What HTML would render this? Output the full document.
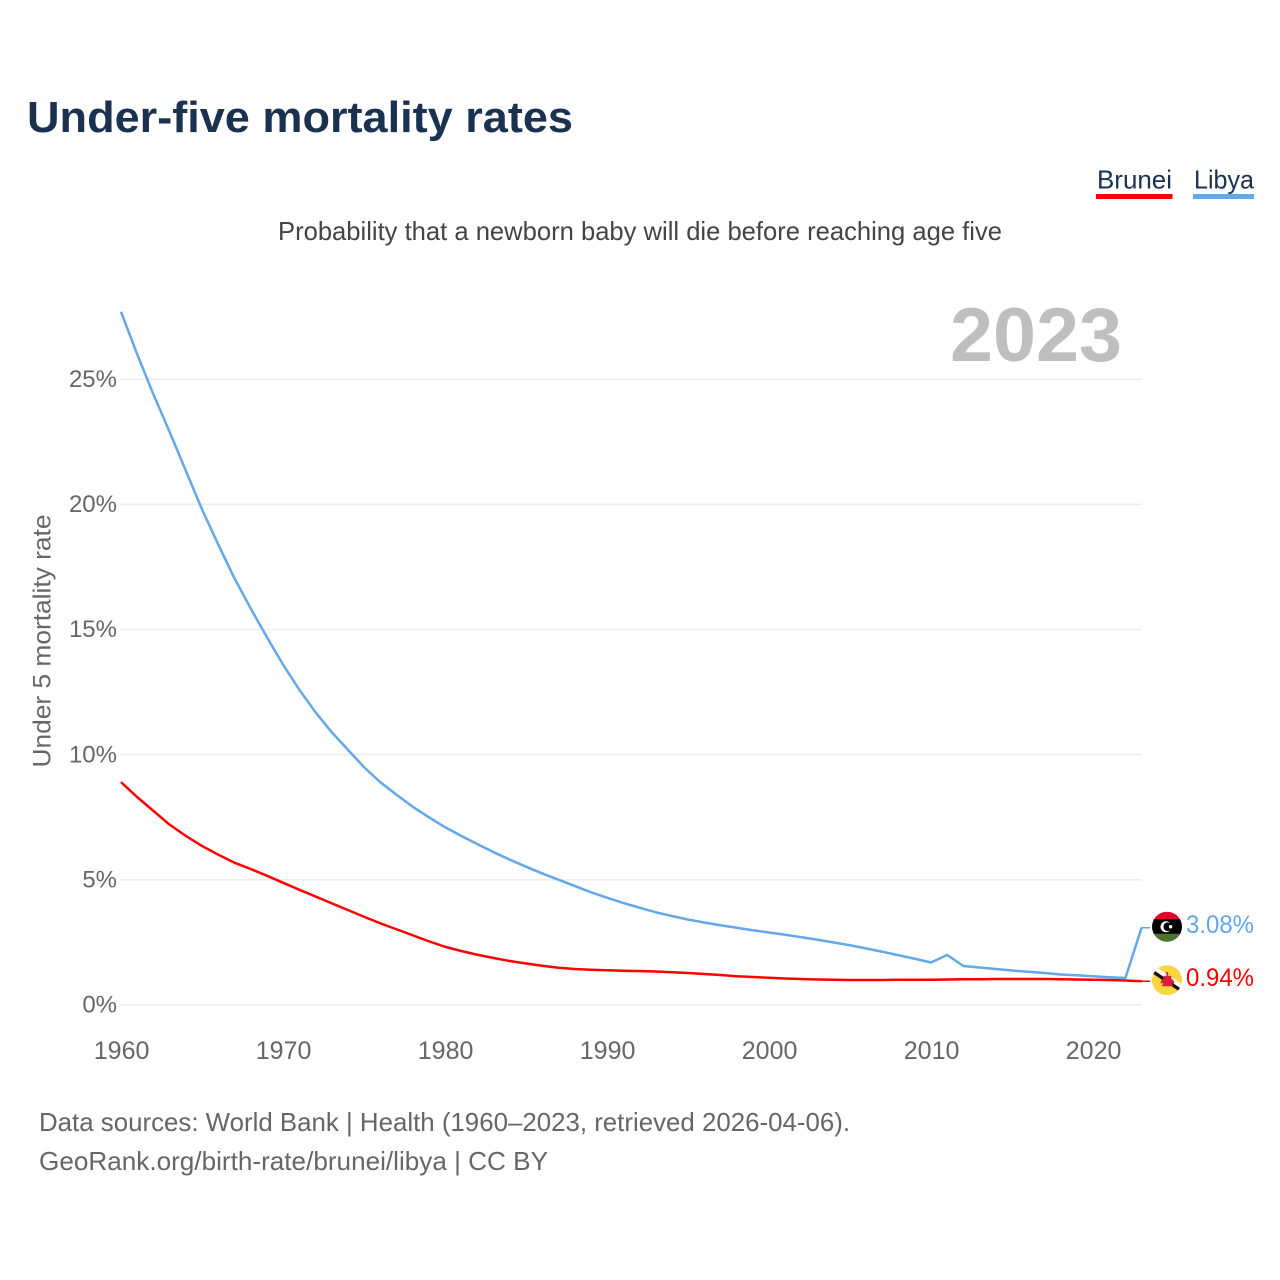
<!DOCTYPE html>
<html lang="en">
<head>
<meta charset="utf-8">
<title>Under-five mortality rates</title>
<style>
html,body{margin:0;padding:0;background:#fff;}
svg{display:block;font-family:"Liberation Sans",sans-serif;}
</style>
</head>
<body>
<svg id="chart" xmlns="http://www.w3.org/2000/svg" width="1280" height="1280" viewBox="0 0 1280 1280">
  <rect x="0" y="0" width="1280" height="1280" fill="#fff"/>
  <text x="27" y="132" font-size="44" font-weight="700" fill="#1a3150" textLength="546" lengthAdjust="spacingAndGlyphs">Under-five mortality rates</text>
  <g>
    <text x="1097" y="188.500" font-size="26" fill="#1a3150" textLength="75" lengthAdjust="spacingAndGlyphs">Brunei</text>
    <rect x="1096" y="194" width="76.5" height="5" fill="#ff0000"/>
  </g>
  <g>
    <text x="1194" y="188.500" font-size="26" fill="#1a3150" textLength="60" lengthAdjust="spacingAndGlyphs">Libya</text>
    <rect x="1193" y="194" width="61" height="5" fill="#62a8ea"/>
  </g>
  <text x="278" y="240" font-size="26" fill="#444" textLength="724" lengthAdjust="spacingAndGlyphs">Probability that a newborn baby will die before reaching age five</text>
  <text x="950" y="361" font-size="76" font-weight="700" fill="#bfbfbf" textLength="172" lengthAdjust="spacingAndGlyphs">2023</text>
  <text transform="translate(50.5,767.5) rotate(-90)" font-size="25" fill="#666" textLength="253" lengthAdjust="spacingAndGlyphs">Under 5 mortality rate</text>
  <g id="grid"></g>
  <g id="yticks"></g>
  <g id="xticks"></g>
  <g id="series"></g>
  <g id="flag-libya">
    <clipPath id="clip-libya"><circle cx="0" cy="0" r="15"/></clipPath>
    <g clip-path="url(#clip-libya)">
      <rect x="-15" y="-15" width="30" height="8" fill="#e4002b"/>
      <rect x="-15" y="-7.500" width="30" height="15" fill="#000"/>
      <rect x="-15" y="7" width="30" height="9" fill="#4c7430"/>
      <circle cx="-1" cy="0" r="5.500" fill="#fff"/>
      <circle cx="0.8" cy="0" r="4.400" fill="#000"/>
      <circle cx="3.600" cy="0" r="1.700" fill="#fff"/>
    </g>
  </g>
  <g id="flag-brunei">
    <clipPath id="clip-brunei"><circle cx="0" cy="0" r="15"/></clipPath>
    <g clip-path="url(#clip-brunei)">
      <rect x="-15" y="-15" width="30" height="30" fill="#fcd53f"/>
      <g transform="rotate(34)">
        <rect x="-22" y="-5" width="44" height="4.200" fill="#fff"/>
        <rect x="-22" y="-1" width="44" height="3.400" fill="#111"/>
      </g>
      <path d="M-1.200-8h2.400v3.500h3v2.500l3 3v2h-2.500l1.500 3h-11.400l1.500-3h-2.500v-2l3-3v-2.500h3z" fill="#d8203a"/>
    </g>
  </g>
  <text id="label-libya" x="1186" y="934" font-size="25" fill="#62a8ea" textLength="68" lengthAdjust="spacingAndGlyphs"></text>
  <text id="label-brunei" x="1186" y="986" font-size="25" fill="#ff0000" textLength="68" lengthAdjust="spacingAndGlyphs"></text>
  <text x="39" y="1131" font-size="26" fill="#666" textLength="811" lengthAdjust="spacingAndGlyphs">Data sources: World Bank | Health (1960–2023, retrieved 2026-04-06).</text>
  <text x="39" y="1170" font-size="26" fill="#666" textLength="509" lengthAdjust="spacingAndGlyphs">GeoRank.org/birth-rate/brunei/libya | CC BY</text>
</svg>
<script>
const startYear = 1960;
const libyaValues = [27.7,26.0,24.4,22.9,21.35,19.8,18.4,17.05,15.85,14.7,13.6,12.6,11.7,10.9,10.2,9.5,8.9,8.4,7.92,7.5,7.1,6.75,6.42,6.1,5.8,5.52,5.25,5.0,4.75,4.5,4.28,4.07,3.88,3.7,3.55,3.41,3.29,3.18,3.08,2.98,2.89,2.8,2.7,2.6,2.49,2.38,2.25,2.12,1.98,1.84,1.69,1.99,1.55,1.49,1.43,1.37,1.32,1.27,1.21,1.18,1.14,1.10,1.07,3.08];
const bruneiValues = [8.9,8.3,7.75,7.2,6.75,6.35,6.0,5.68,5.43,5.16,4.88,4.6,4.33,4.06,3.79,3.52,3.26,3.02,2.78,2.54,2.32,2.15,2.0,1.87,1.75,1.65,1.56,1.48,1.43,1.4,1.38,1.36,1.35,1.33,1.3,1.27,1.23,1.19,1.14,1.11,1.08,1.05,1.03,1.01,1.0,0.99,0.99,0.99,1.0,1.0,1.0,1.01,1.02,1.02,1.03,1.03,1.03,1.03,1.02,1.01,1.0,0.99,0.97,0.94];
const yTickValues = [0,5,10,15,20,25];
const xTickYears = [1960,1970,1980,1990,2000,2010,2020];

const NS = 'http://www.w3.org/2000/svg';
const xScale = function (year) { return 121 + (year - 1960) * 16.2; };
const yScale = function (value) { return 1004.8 - value * 25.02; };
const gridGroup = document.getElementById('grid');
const yTickGroup = document.getElementById('yticks');
const xTickGroup = document.getElementById('xticks');
const seriesGroup = document.getElementById('series');

yTickValues.forEach(function (value) {
  const gridline = document.createElementNS(NS, 'line');
  
  
  gridline.setAttribute('x1', 120);
  gridline.setAttribute('x2', 1142);
  gridline.setAttribute('y1', yScale(value));
  gridline.setAttribute('y2', yScale(value));
  gridline.setAttribute('stroke', '#eeeeee');
  gridline.setAttribute('stroke-width', 1.6);
  gridGroup.appendChild(gridline);

  const label = document.createElementNS(NS, 'text');
  
  
  label.setAttribute('x', 117);
  label.setAttribute('y', yScale(value) + 7.7);
  label.setAttribute('text-anchor', 'end');
  label.setAttribute('font-size', 24);
  label.setAttribute('fill', '#666');
  label.textContent = value + '%';
  yTickGroup.appendChild(label);
});

xTickYears.forEach(function (year) {
  const label = document.createElementNS(NS, 'text');
  
  
  label.setAttribute('x', xScale(year) + 0.6);
  label.setAttribute('y', 1059);
  label.setAttribute('text-anchor', 'middle');
  label.setAttribute('font-size', 25);
  label.setAttribute('fill', '#666');
  label.textContent = String(year);
  xTickGroup.appendChild(label);
});

function linePath(values) {
  return values.map(function (value, i) {
    return (i === 0 ? 'M' : 'L') + xScale(startYear + i).toFixed(2) + ' ' + yScale(value).toFixed(2);
  }).join(' ');
}

const libyaLine = document.createElementNS(NS, 'path');


libyaLine.setAttribute('d', linePath(libyaValues));
libyaLine.setAttribute('fill', 'none');
libyaLine.setAttribute('stroke', '#62a8ea');
libyaLine.setAttribute('stroke-width', 2.5);
libyaLine.setAttribute('stroke-linejoin', 'round');
seriesGroup.appendChild(libyaLine);

const bruneiLine = document.createElementNS(NS, 'path');


bruneiLine.setAttribute('d', linePath(bruneiValues));
bruneiLine.setAttribute('fill', 'none');
bruneiLine.setAttribute('stroke', '#ff0000');
bruneiLine.setAttribute('stroke-width', 2.5);
bruneiLine.setAttribute('stroke-linejoin', 'round');
seriesGroup.appendChild(bruneiLine);

const libyaLast = libyaValues[libyaValues.length - 1];
const bruneiLast = bruneiValues[bruneiValues.length - 1];

const libyaConnector = document.createElementNS(NS, 'line');


libyaConnector.setAttribute('x1', 1141);
libyaConnector.setAttribute('x2', 1150);
libyaConnector.setAttribute('y1', yScale(libyaLast));
libyaConnector.setAttribute('y2', yScale(libyaLast));
libyaConnector.setAttribute('stroke', '#62a8ea');
libyaConnector.setAttribute('stroke-width', 1.5);
seriesGroup.appendChild(libyaConnector);

const bruneiConnector = document.createElementNS(NS, 'line');


bruneiConnector.setAttribute('x1', 1141);
bruneiConnector.setAttribute('x2', 1150);
bruneiConnector.setAttribute('y1', yScale(bruneiLast));
bruneiConnector.setAttribute('y2', yScale(bruneiLast));
bruneiConnector.setAttribute('stroke', '#ff0000');
bruneiConnector.setAttribute('stroke-width', 1.5);
seriesGroup.appendChild(bruneiConnector);

document.getElementById('flag-libya').setAttribute('transform', 'translate(1167,' + (yScale(libyaLast) - 1) + ')');
document.getElementById('flag-brunei').setAttribute('transform', 'translate(1167,' + (yScale(bruneiLast) - 1) + ')');
const libyaLabel = document.getElementById('label-libya');
libyaLabel.textContent = libyaLast.toFixed(2) + '%';
libyaLabel.setAttribute('y', yScale(libyaLast) + 5.5);
const bruneiLabel = document.getElementById('label-brunei');
bruneiLabel.textContent = bruneiLast.toFixed(2) + '%';
bruneiLabel.setAttribute('y', yScale(bruneiLast) + 4.5);
</script>
</body>
</html>
